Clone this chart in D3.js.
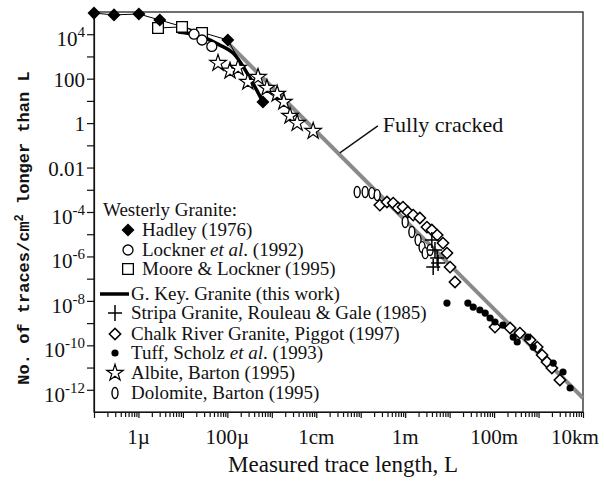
<!DOCTYPE html>
<html lang="en">
<head>
    <meta charset="UTF-8">
    <title>Trace length distributions</title>
    <script src="https://d3js.org/d3.v7.min.js"></script>
    <style>
        body {
            margin: 0;
            background: #fff;
        }
        svg text {
            font-family: "Liberation Serif", "Times New Roman", serif;
            fill: #111;
        }
        .axis path, .axis line {
            stroke: #111;
            stroke-width: 1.2;
        }
    </style>
</head>
<body>
<div id="chart"></div>
<script>
    // every point is [log10(L in metres), log10(traces per cm2 longer than L)]
    const hadley = [[-7.00, 4.95], [-6.55, 4.87], [-5.99, 4.91], [-5.52, 4.64], [-3.99, 3.74], [-3.20, 0.95]];
    const lockner = [[-4.75, 4.00], [-4.57, 3.74], [-4.35, 3.45]];
    const moore = [[-5.56, 4.28], [-5.02, 4.33], [-4.57, 4.06]];
    const gKey = [[-5.11, 4.10], [-4.62, 3.92], [-4.17, 3.51], [-3.87, 3.15], [-3.49, 2.03], [-3.20, 0.95]];
    const stripa = [[0.60, -5.26], [0.67, -5.71], [0.72, -6.07], [0.74, -6.30], [0.63, -6.48]];
    const chalkRiver = [
        [-0.57, -3.69], [-0.41, -3.55], [-0.27, -3.60], [-0.16, -3.82], [-0.05, -3.78], [0.06, -4.00],
        [0.18, -4.14], [0.33, -4.27], [0.49, -4.68], [0.60, -4.81], [0.72, -5.04], [0.85, -5.40],
        [0.94, -5.85], [1.01, -6.48], [1.12, -7.15],
        [2.02, -9.18], [2.36, -9.22], [2.58, -9.45], [2.81, -9.76], [2.97, -10.08], [3.08, -10.44],
        [3.19, -10.75], [3.30, -11.02], [3.48, -11.56]
    ];
    const tuff = [
        [0.94, -8.10], [1.41, -8.10], [1.53, -8.28], [1.68, -8.41], [1.80, -8.55], [1.91, -8.77],
        [2.02, -8.95], [2.20, -9.09], [2.43, -9.63], [2.52, -9.85], [2.76, -9.63], [2.88, -10.08],
        [3.33, -10.80], [3.55, -11.20], [3.71, -11.92]
    ];
    const albite = [
        [-4.21, 2.70], [-3.94, 2.35], [-3.76, 2.48], [-3.54, 1.85], [-3.31, 2.07], [-3.11, 1.58],
        [-2.88, 1.31], [-2.73, 0.95], [-2.59, 0.32], [-2.43, 0.00], [-2.07, -0.36]
    ];
    const dolomite = [
        [-1.08, -3.10], [-0.90, -3.10], [-0.75, -3.15], [-0.63, -3.24],
        [0.00, -4.45], [0.15, -4.90], [0.29, -5.26], [0.38, -5.58], [0.45, -5.85], [0.56, -5.71]
    ];
    const fullyCracked = [[-4.0, 3.63], [4.0, -12.37]];
    const leaderAt = -1.47; // log10(L) where the "Fully cracked" pointer touches the line

    const xTickValues = [1e-6, 1e-4, 1e-2, 1, 1e2, 1e4];
    const xTickLabels = ["1\u00b5", "100\u00b5", "1cm", "1m", "100m", "10km"];
    const yTickValues = [1e4, 1e2, 1, 1e-2, 1e-4, 1e-6, 1e-8, 1e-10, 1e-12];
    const yTickBase = ["10", "100", "1", "0.01", "10", "10", "10", "10", "10"];
    const yTickSup = ["4", "", "", "", "-4", "-6", "-8", "-10", "-12"];

    const legendItems = [
        {type: "fdiamond", text: [["Hadley (1976)", false]]},
        {type: "circle", text: [["Lockner ", false], ["et al", true], [". (1992)", false]]},
        {type: "square", text: [["Moore & Lockner (1995)", false]]},
        {type: "line", text: [["G. Key. Granite (this work)", false]]},
        {type: "plus", text: [["Stripa Granite, Rouleau & Gale (1985)", false]]},
        {type: "diamond", text: [["Chalk River Granite, Piggot (1997)", false]]},
        {type: "dot", text: [["Tuff, Scholz ", false], ["et al", true], [". (1993)", false]]},
        {type: "star", text: [["Albite, Barton (1995)", false]]},
        {type: "zero", text: [["Dolomite, Barton (1995)", false]]}
    ];

    const width = 604, height = 483;
    const margin = {top: 12, right: 21, bottom: 71, left: 94};

    const svg = d3.select("#chart")
        .append("svg")
        .attr("width", width)
        .attr("height", height);

    const x = d3.scaleLog().domain([1e-7, 1e4]).range([margin.left, width - margin.right]);
    const y = d3.scaleLog().domain([1e-13, 1e5]).range([height - margin.bottom, margin.top]);
    const px = d => x(Math.pow(10, d[0]));
    const py = d => y(Math.pow(10, d[1]));

    // frame
    svg.append("rect")
        .attr("x", margin.left)
        .attr("y", margin.top)
        .attr("width", width - margin.left - margin.right)
        .attr("height", height - margin.top - margin.bottom)
        .attr("fill", "none")
        .attr("stroke", "#111")
        .attr("stroke-width", 1.2);

    // x axis: minor ticks for 2..9 of each decade, plus decades
    const minorX = [];
    d3.range(-7, 4).forEach(e => d3.range(2, 10).forEach(m => minorX.push(m * Math.pow(10, e))));
    const decadesX = d3.range(-7, 5).map(e => Math.pow(10, e));

    svg.append("g")
        .attr("class", "axis")
        .attr("transform", `translate(0, ${height - margin.bottom})`)
        .call(d3.axisBottom(x).tickValues(minorX).tickSize(5).tickSizeOuter(0).tickFormat(""));
    svg.append("g")
        .attr("class", "axis")
        .attr("transform", `translate(0, ${height - margin.bottom})`)
        .call(d3.axisBottom(x).tickValues(decadesX).tickSize(6).tickSizeOuter(0).tickFormat(""));

    svg.append("g")
        .selectAll("text")
        .data(xTickValues)
        .join("text")
        .attr("x", d => x(d))
        .attr("y", height - margin.bottom + 32)
        .attr("dx", (d, i) => i === xTickValues.length - 1 ? -8 : 0)
        .attr("text-anchor", "middle")
        .style("font-size", "21px")
        .text((d, i) => xTickLabels[i]);

    // y axis: a tick at every decade, labels every second one
    const decadesY = d3.range(-12, 5).map(e => Math.pow(10, e));
    svg.append("g")
        .attr("class", "axis")
        .attr("transform", `translate(${margin.left}, 0)`)
        .call(d3.axisLeft(y).tickValues(decadesY).tickSize(7).tickSizeOuter(0).tickFormat(""));

    const yLab = svg.append("g")
        .selectAll("text")
        .data(yTickValues)
        .join("text")
        .attr("x", margin.left - 9)
        .attr("y", (d, i) => y(d) + (yTickSup[i] ? 12 : 8))
        .attr("text-anchor", "end")
        .style("font-size", "21px");
    yLab.append("tspan").text((d, i) => yTickBase[i]);
    yLab.append("tspan")
        .attr("dy", -9)
        .style("font-size", "15px")
        .text((d, i) => yTickSup[i]);

    // axis titles
    svg.append("text")
        .attr("x", 343)
        .attr("y", 472)
        .attr("text-anchor", "middle")
        .style("font-size", "23px")
        .text("Measured trace length, L");

    const yTitle = svg.append("text")
        .attr("transform", "translate(29, 228) rotate(-90)")
        .attr("text-anchor", "middle")
        .style("font-family", "'Liberation Mono', 'DejaVu Sans Mono', monospace")
        .style("font-weight", "bold")
        .style("font-size", "17px");
    yTitle.append("tspan").text("No. of traces/cm");
    yTitle.append("tspan").attr("dy", -6).style("font-size", "12px").text("2");
    yTitle.append("tspan").attr("dy", 6).text(" longer than L");

    // fully cracked reference line
    svg.append("line")
        .attr("x1", px(fullyCracked[0]))
        .attr("y1", py(fullyCracked[0]))
        .attr("x2", px(fullyCracked[1]))
        .attr("y2", py(fullyCracked[1]))
        .attr("stroke", "#8a8a8a")
        .attr("stroke-width", 4);

    const slope = (fullyCracked[1][1] - fullyCracked[0][1]) / (fullyCracked[1][0] - fullyCracked[0][0]);
    const leadPt = [leaderAt, fullyCracked[0][1] + slope * (leaderAt - fullyCracked[0][0])];
    svg.append("line")
        .attr("x1", px(leadPt))
        .attr("y1", py(leadPt) - 2)
        .attr("x2", px(leadPt) + 38)
        .attr("y2", py(leadPt) - 29)
        .attr("stroke", "#111")
        .attr("stroke-width", 1.4);
    svg.append("text")
        .attr("x", px(leadPt) + 43)
        .attr("y", py(leadPt) - 23)
        .style("font-size", "22px")
        .text("Fully cracked");

    // marker shapes
    function addShape(g, type) {
        if (type === "fdiamond") {
            g.append("path").attr("d", d3.symbol(d3.symbolSquare, 85)())
                .attr("transform", "rotate(45)").attr("fill", "#000");
        } else if (type === "circle") {
            g.append("circle").attr("r", 5).attr("fill", "#fff")
                .attr("stroke", "#000").attr("stroke-width", 1.3);
        } else if (type === "square") {
            g.append("path").attr("d", d3.symbol(d3.symbolSquare, 115)())
                .attr("fill", "#fff").attr("stroke", "#000").attr("stroke-width", 1.3);
        } else if (type === "plus") {
            g.append("path").attr("d", "M-7,0H7M0,-8V8")
                .attr("stroke", "#000").attr("stroke-width", 1.5);
        } else if (type === "diamond") {
            g.append("path").attr("d", d3.symbol(d3.symbolSquare, 64)())
                .attr("transform", "rotate(45)").attr("fill", "#fff")
                .attr("stroke", "#000").attr("stroke-width", 1.5);
        } else if (type === "dot") {
            g.append("circle").attr("r", 3.6).attr("fill", "#000");
        } else if (type === "star") {
            g.append("path").attr("d", d3.symbol(d3.symbolStar, 85)())
                .attr("fill", "#fff").attr("stroke", "#000").attr("stroke-width", 1.2);
        } else if (type === "zero") {
            g.append("ellipse").attr("rx", 3).attr("ry", 5.5).attr("fill", "#fff")
                .attr("stroke", "#000").attr("stroke-width", 1.4);
        }
    }

    const line = d3.line().x(px).y(py);

    // thin lines joining the Westerly granite points
    [hadley, moore, lockner].forEach(s => {
        svg.append("path").attr("d", line(s)).attr("fill", "none")
            .attr("stroke", "#000").attr("stroke-width", 1);
    });

    // this work
    svg.append("path")
        .attr("d", line.curve(d3.curveMonotoneX)(gKey))
        .attr("fill", "none")
        .attr("stroke", "#000")
        .attr("stroke-width", 3.5);
    line.curve(d3.curveLinear);

    function drawSeries(data, type) {
        svg.append("g")
            .selectAll("g")
            .data(data)
            .join("g")
            .attr("transform", d => `translate(${px(d)}, ${py(d)})`)
            .each(function () { addShape(d3.select(this), type); });
    }

    drawSeries(albite, "star");
    drawSeries(moore, "square");
    drawSeries(lockner, "circle");
    drawSeries(hadley, "fdiamond");
    drawSeries(dolomite, "zero");
    drawSeries(chalkRiver, "diamond");
    drawSeries(stripa, "plus");
    drawSeries(tuff, "dot");

    // legend
    const lg = svg.append("g").style("font-size", "19px");
    lg.append("text").attr("x", 103).attr("y", 216).text("Westerly Granite:");

    const legendY = [230, 250, 269, 294, 313, 334, 353, 373, 393];
    legendItems.forEach((item, i) => {
        const indent = i < 3;
        const mx = indent ? 128 : 115;
        const tx = indent ? 142 : 131;
        const row = lg.append("g").attr("transform", `translate(0, ${legendY[i]})`);
        if (item.type === "line") {
            row.append("line").attr("x1", 100).attr("x2", 129)
                .attr("stroke", "#000").attr("stroke-width", 3.5);
        } else {
            addShape(row.append("g").attr("transform", `translate(${mx}, 0)`), item.type);
        }
        const t = row.append("text").attr("x", tx).attr("y", 6);
        item.text.forEach(seg => {
            t.append("tspan").style("font-style", seg[1] ? "italic" : "normal").text(seg[0]);
        });
    });
</script>
</body>
</html>
